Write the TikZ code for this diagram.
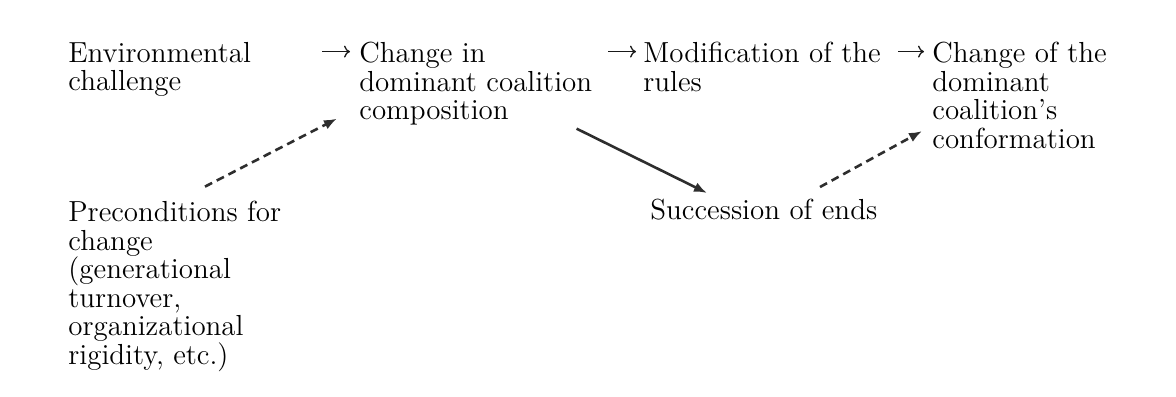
\documentclass[tikz,border=0pt]{standalone}
\usepackage{tikz}
\usetikzlibrary{arrows.meta}

\newcommand{\diagfont}{\fontsize{14.5pt}{14.3pt}\selectfont}

\begin{document}
\begin{tikzpicture}[
  x=0.5pt, y=-0.5pt,
  entry/.style={anchor=north west, inner sep=0pt, align=left, font=\diagfont, text=black},
  flow/.style={-{To[length=3pt,width=6pt]}, line width=0.65pt, draw=black!90},
  push/.style={-{Latex[length=6.5pt,width=5pt]}, line width=1.3pt, draw=black!82},
  hint/.style={push, dash pattern=on 4pt off 2.6pt}
]
\useasboundingbox (0,0) rectangle (1176,396);

% top row
\node[entry] (challenge) at (68,41.6) {Environmental\\challenge};
\node[entry] (composition) at (359,41.6) {Change in\\dominant coalition\\composition};
\node[entry] (rules) at (643,41.6) {Modification of the\\rules};
\node[entry] (conformation) at (932,41.6) {Change of the\\dominant\\coalition's\\conformation};

% lower row
\node[entry] (preconditions) at (68,200.6) {Preconditions for\\change\\(generational\\turnover,\\organizational\\rigidity, etc.)};
\node[entry] (succession) at (650,198.6) {Succession of ends};

\draw[flow] ([shift={(254,10)}]challenge.north west) -- ([shift={(-9,10)}]composition.north west);
\draw[flow] ([shift={(249,10)}]composition.north west) -- ([shift={(-7,10)}]rules.north west);
\draw[flow] ([shift={(255,10)}]rules.north west) -- ([shift={(-8,10)}]conformation.north west);

\draw[hint] ([shift={(137,-14)}]preconditions.north west) -- ([shift={(-22,-7)}]composition.south west);
\draw[push] ([shift={(-16,3)}]composition.south east) -- ([shift={(57,-5.6)}]succession.north west);
\draw[hint] ([shift={(170,-11.6)}]succession.north west) -- ([shift={(-10,-17.8)}]conformation.south west);
\end{tikzpicture}
\end{document}
